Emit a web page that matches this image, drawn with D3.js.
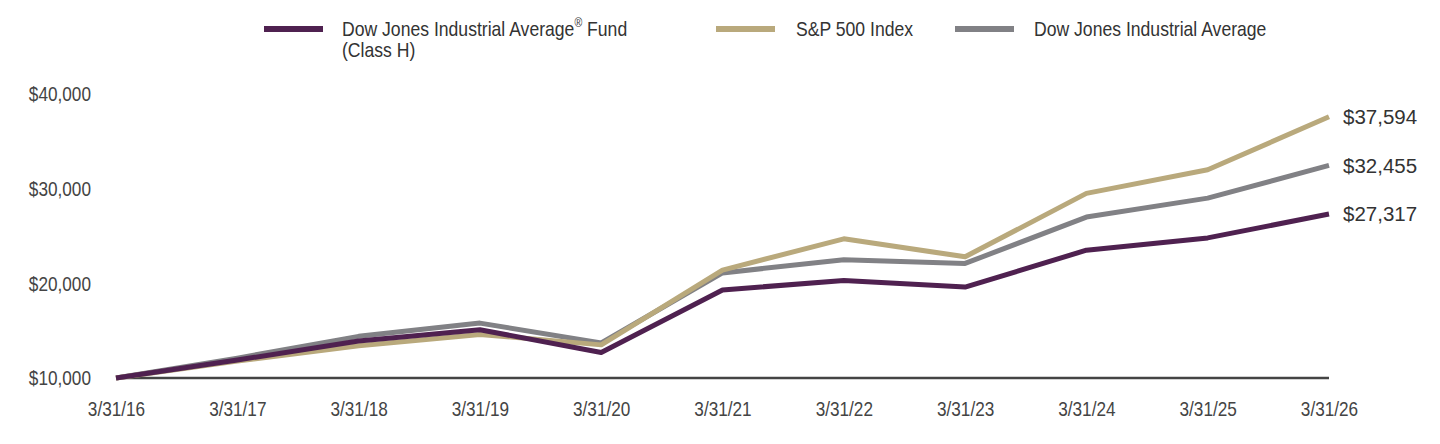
<!DOCTYPE html>
<html>
<head>
<meta charset="utf-8">
<script src="https://cdn.jsdelivr.net/npm/d3@7"></script>
<style>
  body { margin: 0; background: #fff; }
  svg { display: block; font-family: "Liberation Sans", Arial, sans-serif; }
</style>
</head>
<body>
<div id="chart"></div>
<script>
const dates = ['3/31/16', '3/31/17', '3/31/18', '3/31/19', '3/31/20', '3/31/21', '3/31/22', '3/31/23', '3/31/24', '3/31/25', '3/31/26']
const fundValues = [10000, 11900, 13900, 15100, 12700, 19300, 20300, 19600, 23500, 24800, 27317]
const spValues = [10000, 11800, 13400, 14600, 13500, 21400, 24700, 22800, 29500, 32000, 37594]
const djiaValues = [10000, 12100, 14400, 15800, 13700, 21100, 22500, 22100, 27000, 29000, 32455]
const yTicks = [10000, 20000, 30000, 40000]

const series = [
  { name: 'Dow Jones Industrial Average', values: djiaValues, color: '#818185' },
  { name: 'S&P 500 Index', values: spValues, color: '#b9a97c' },
  { name: 'Dow Jones Industrial Average® Fund (Class H)', values: fundValues, color: '#4f2150' }
]

const width = 1440, height = 444
const narrow = 0.86 // the original uses a condensed face, squeeze the regular one
const svg = d3.select('#chart').append('svg').attr('width', width).attr('height', height)

const x = d3.scalePoint().domain(dates).range([116, 1329])
const y = d3.scaleLinear().domain([10000, 40000]).range([378, 94])
const fmt = d => '$' + d3.format(',')(d)

// y labels (no axis line)
svg.append('g').selectAll('text').data(yTicks).join('text')
  .attr('transform', d => `translate(91,${y(d)}) scale(${narrow},1)`)
  .attr('dy', '0.36em')
  .attr('text-anchor', 'end').attr('font-size', 20).attr('fill', '#444')
  .text(fmt)

// x axis
const xAxis = svg.append('g').attr('transform', `translate(0,${y(10000)})`)
  .call(d3.axisBottom(x).tickSize(0).tickPadding(24))
xAxis.attr('font-family', null).attr('font-size', null)
xAxis.select('.domain').attr('stroke', '#444').attr('stroke-width', 2.5)
  .attr('d', `M${x(dates[0])},0H${x(dates[dates.length - 1])}`)
xAxis.selectAll('text').attr('font-size', 20).attr('fill', '#444')
  .attr('transform', `scale(${narrow},1)`)

// lines
const line = d3.line().x((d, i) => x(dates[i])).y(d => y(d))
svg.append('g').selectAll('path').data(series).join('path')
  .attr('d', d => line(d.values))
  .attr('fill', 'none').attr('stroke', d => d.color).attr('stroke-width', 5)
  .attr('stroke-linejoin', 'round')

// end labels
svg.append('g').selectAll('text').data(series).join('text')
  .attr('x', 1343).attr('y', d => y(d.values[d.values.length - 1])).attr('dy', '0.36em')
  .attr('font-size', 20.5).attr('fill', '#333')
  .text(d => fmt(d.values[d.values.length - 1]))

// legend
const legendItems = [
  { lines: ['Dow Jones Industrial Average® Fund', '(Class H)'], color: '#4f2150', x: 264, tx: 342 },
  { lines: ['S&P 500 Index'], color: '#b9a97c', x: 716, tx: 796 },
  { lines: ['Dow Jones Industrial Average'], color: '#818185', x: 955, tx: 1034 }
]
const legend = svg.append('g')
const li = legend.selectAll('g').data(legendItems).join('g')
li.append('rect').attr('x', d => d.x).attr('y', 26).attr('width', 59).attr('height', 6).attr('fill', d => d.color)
li.each(function (d) {
  d.lines.forEach((s, i) => {
    const t = d3.select(this).append('text')
      .attr('transform', `translate(${d.tx},${29 + i * 21}) scale(0.88,1)`)
      .attr('dy', '0.36em').attr('font-size', 20).attr('fill', '#333')
    if (s.includes('®')) {
      const parts = s.split('®')
      t.append('tspan').text(parts[0])
      t.append('tspan').attr('font-size', 12).attr('dy', '-0.75em').text('®')
      t.append('tspan').attr('dy', '0.45em').text(parts[1])
    } else {
      t.text(s)
    }
  })
})
</script>
</body>
</html>
